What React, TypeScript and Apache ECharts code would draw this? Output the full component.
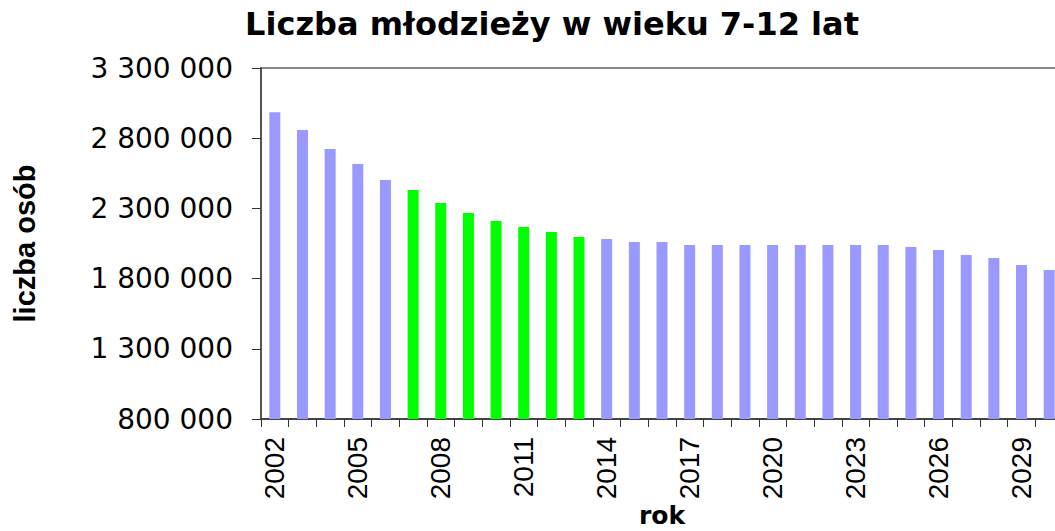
import React, { useEffect, useRef } from "react";
import * as echarts from "echarts";

const years: string[] = [
  "2002", "2003", "2004", "2005", "2006", "2007", "2008", "2009", "2010", "2011",
  "2012", "2013", "2014", "2015", "2016", "2017", "2018", "2019", "2020", "2021",
  "2022", "2023", "2024", "2025", "2026", "2027", "2028", "2029", "2030",
];

const youthCount: number[] = [
  2985000, 2858000, 2723000, 2616000, 2502000, 2431000, 2338000, 2267000, 2210000, 2167000,
  2132000, 2096000, 2082000, 2061000, 2061000, 2039000, 2039000, 2039000, 2039000, 2039000,
  2039000, 2039000, 2039000, 2025000, 2004000, 1968000, 1947000, 1897000, 1861000,
];

const highlightYears: string[] = ["2007", "2008", "2009", "2010", "2011", "2012", "2013"];

const yMin = 800000;
const yMax = 3300000;
const yStep = 500000;

const titleText = "Liczba młodzieży w wieku 7-12 lat";
const xName = "rok";
const yName = "liczba osób";

const baseColor = "#9999FF";
const highlightColor = "#00FF00";

const fmt = (v: number) => String(v).replace(/\B(?=(\d{3})+(?!\d))/g, " ");

export default function App() {
  const ref = useRef<HTMLDivElement>(null);

  useEffect(() => {
    document.body.style.margin = "0";
    if (!ref.current) return;
    const chart = echarts.init(ref.current, undefined, { renderer: "svg" });
    chart.setOption({
      animation: false,
      backgroundColor: "#ffffff",
      title: {
        text: titleText,
        left: 552,
        top: 8,
        padding: 0,
        textAlign: "center",
        textStyle: {
          fontFamily: "DejaVu Sans",
          fontWeight: "bold",
          fontSize: 32,
          color: "#000",
        },
      },
      grid: {
        left: 261,
        top: 68,
        width: 802,
        height: 351,
        outerBoundsMode: "none",
        containLabel: false,
        show: true,
        borderColor: "#888",
        borderWidth: 2,
        backgroundColor: "transparent",
      },
      xAxis: {
        type: "category",
        data: years,
        boundaryGap: true,
        name: xName,
        nameLocation: "middle",
        nameGap: 84,
        nameMoveOverlap: false,
        nameTextStyle: {
          fontFamily: "DejaVu Sans",
          fontWeight: "bold",
          fontSize: 25,
          color: "#000",
        },
        axisLine: { show: true, lineStyle: { color: "#444", width: 2 } },
        axisTick: { show: true, interval: 0, length: 8, lineStyle: { color: "#333", width: 1 } },
        axisLabel: {
          interval: 2,
          rotate: 90,
          margin: 18,
          fontFamily: "Liberation Sans",
          fontSize: 28,
          color: "#000",
        },
        splitLine: { show: false },
      },
      yAxis: {
        type: "value",
        min: yMin,
        max: yMax,
        interval: yStep,
        name: yName,
        nameLocation: "middle",
        nameGap: 222,
        nameMoveOverlap: false,
        nameTextStyle: {
          fontFamily: "Liberation Sans",
          fontWeight: "bold",
          fontSize: 29,
          color: "#000",
        },
        axisLine: { show: true, lineStyle: { color: "#555", width: 2 } },
        axisTick: { show: true, length: 9, lineStyle: { color: "#333", width: 1 } },
        axisLabel: {
          margin: 28,
          formatter: (v: number) => fmt(v),
          fontFamily: "DejaVu Sans",
          fontSize: 28,
          color: "#000",
        },
        splitLine: {
          show: true,
          lineStyle: {
            color: "#333",
            width: 1,
            shadowColor: "#bbbbbb",
            shadowOffsetY: 1,
            shadowBlur: 0,
          },
        },
      },
      series: [
        {
          type: "bar",
          barWidth: 11,
          data: youthCount.map((v, i) => ({
            value: v,
            itemStyle: {
              color: highlightYears.includes(years[i]) ? highlightColor : baseColor,
            },
          })),
        },
      ],
    });
    return () => chart.dispose();
  }, []);

  return <div ref={ref} style={{ width: 1055, height: 531 }} />;
}
